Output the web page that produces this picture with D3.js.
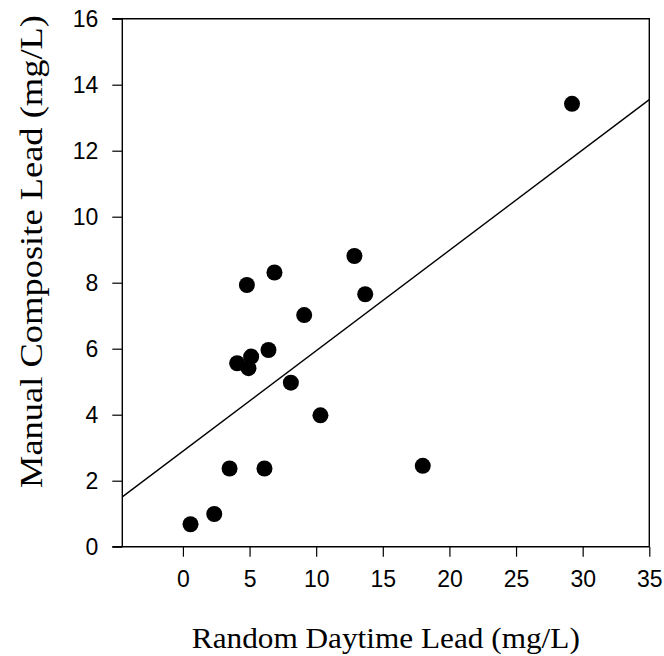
<!DOCTYPE html>
<html>
<head>
<meta charset="utf-8">
<script src="https://cdn.jsdelivr.net/npm/d3@7"></script>
<style>
  body { margin: 0; background: #fff; }
  .tick text { font-family: "Liberation Sans", Arial, sans-serif; font-size: 23px; fill: #000; }
  .axis-title { font-family: "Liberation Serif", "Times New Roman", serif; fill: #000; }
</style>
</head>
<body>
<div class="chart"></div>
<script>
// 読み取ったデータ
const randomDaytime = [0.57, 2.35, 3.5, 6.12, 4.07, 4.92, 5.12, 6.42, 4.8, 6.87, 9.1, 8.1, 10.32, 12.87, 13.68, 18.0, 29.2];
const manualComposite = [0.68, 0.99, 2.37, 2.37, 5.56, 5.41, 5.76, 5.96, 7.93, 8.31, 7.02, 4.97, 3.98, 8.81, 7.65, 2.45, 13.42];
const xTicks = [0, 5, 10, 15, 20, 25, 30, 35];
const yTicks = [0, 2, 4, 6, 8, 10, 12, 14, 16];

const W = 664, H = 656;
const plot = { left: 122.3, right: 649.3, top: 18.7, bottom: 546.7 };
const tickLen = 10;

const svg = d3.select(".chart")
    .append("svg")
    .attr("width", W)
    .attr("height", H);

// スケール
const x = d3.scaleLinear().domain([-4.55, 35]).range([plot.left, plot.right]);
const y = d3.scaleLinear().domain([0, 16]).range([plot.bottom, plot.top]);

// 最小二乗法で回帰直線
const mx = d3.mean(randomDaytime), my = d3.mean(manualComposite);
let sxy = 0, sxx = 0;
randomDaytime.forEach((v, i) => {
    sxy += (v - mx) * (manualComposite[i] - my);
    sxx += (v - mx) * (v - mx);
});
const slope = sxy / sxx;
const intercept = my - slope * mx;

// 枠線 (上と右)
svg.append("path")
    .attr("d", `M${plot.left - tickLen},${plot.top}H${plot.right}V${plot.bottom}`)
    .attr("fill", "none")
    .attr("stroke", "#000")
    .attr("stroke-width", 1.4);

// x軸
const xAxis = svg.append("g")
    .attr("transform", `translate(0,${plot.bottom})`)
    .call(d3.axisBottom(x).tickValues(xTicks).tickSize(tickLen).tickPadding(14).tickSizeOuter(0));
xAxis.select(".domain").remove();
xAxis.append("line")
    .attr("x1", plot.left - tickLen).attr("x2", plot.right)
    .attr("stroke", "#000").attr("stroke-width", 1.4);

// y軸
const yAxis = svg.append("g")
    .attr("transform", `translate(${plot.left},0)`)
    .call(d3.axisLeft(y).tickValues(yTicks).tickSize(tickLen).tickPadding(14).tickSizeOuter(0));
yAxis.select(".domain").remove();
yAxis.append("line")
    .attr("y1", plot.top).attr("y2", plot.bottom)
    .attr("stroke", "#000").attr("stroke-width", 1.4);

svg.selectAll(".tick line").attr("stroke", "#000").attr("stroke-width", 1.2);

// 回帰直線
const xd = x.domain();
svg.append("line")
    .attr("x1", x(xd[0])).attr("y1", y(intercept + slope * xd[0]))
    .attr("x2", x(xd[1])).attr("y2", y(intercept + slope * xd[1]))
    .attr("stroke", "#000")
    .attr("stroke-width", 1.4);

// 点
svg.selectAll(".dot")
    .data(randomDaytime.map((v, i) => [v, manualComposite[i]]))
    .enter()
    .append("circle")
    .attr("class", "dot")
    .attr("cx", d => x(d[0]))
    .attr("cy", d => y(d[1]))
    .attr("r", 8)
    .attr("fill", "#000");

// 軸タイトル
svg.append("text")
    .attr("class", "axis-title")
    .attr("x", (plot.left + plot.right) / 2)
    .attr("y", 647.5)
    .attr("text-anchor", "middle")
    .attr("textLength", 388)
    .attr("lengthAdjust", "spacingAndGlyphs")
    .style("font-size", "29px")
    .text("Random Daytime Lead (mg/L)");

svg.append("text")
    .attr("class", "axis-title")
    .attr("transform", `translate(41.5,${(15 + 488) / 2}) rotate(-90)`)
    .attr("text-anchor", "middle")
    .attr("textLength", 473)
    .attr("lengthAdjust", "spacingAndGlyphs")
    .style("font-size", "32px")
    .text("Manual Composite Lead (mg/L)");
</script>
</body>
</html>
